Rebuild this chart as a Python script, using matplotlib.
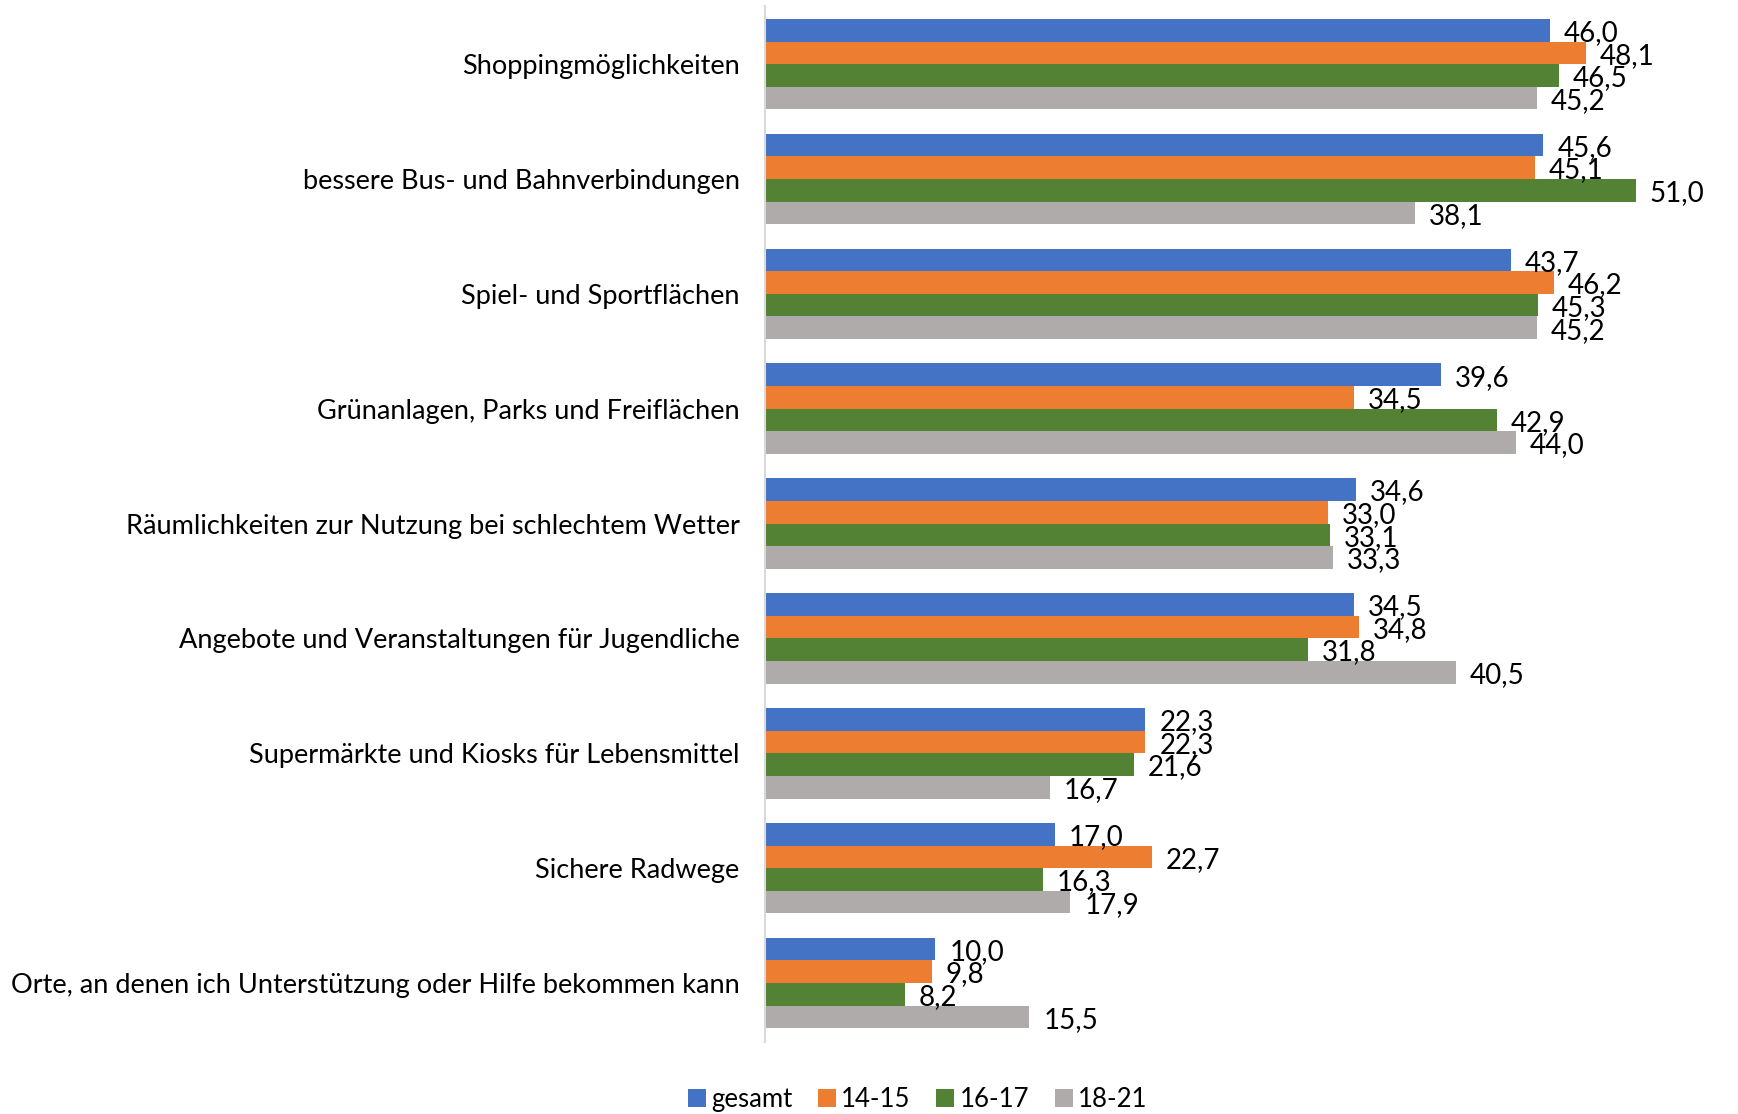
import matplotlib.pyplot as plt
import numpy as np

categories = [
    'Shoppingmöglichkeiten',
    'bessere Bus- und Bahnverbindungen',
    'Spiel- und Sportflächen',
    'Grünanlagen, Parks und Freiflächen',
    'Räumlichkeiten zur Nutzung bei schlechtem Wetter',
    'Angebote und Veranstaltungen für Jugendliche',
    'Supermärkte und Kiosks für Lebensmittel',
    'Sichere Radwege',
    'Orte, an denen ich Unterstützung oder Hilfe bekommen kann',
]
series_names = ['gesamt', '14-15', '16-17', '18-21']
gesamt = [46.0, 45.6, 43.7, 39.6, 34.6, 34.5, 22.3, 17.0, 10.0]
age_14_15 = [48.1, 45.1, 46.2, 34.5, 33.0, 34.8, 22.3, 22.7, 9.8]
age_16_17 = [46.5, 51.0, 45.3, 42.9, 33.1, 31.8, 21.6, 16.3, 8.2]
age_18_21 = [45.2, 38.1, 45.2, 44.0, 33.3, 40.5, 16.7, 17.9, 15.5]
colors = ['#4472C4', '#ED7D31', '#548235', '#AFABAB']

plt.rcParams['font.family'] = ['Lato', 'DejaVu Sans']

fig = plt.figure(figsize=(17.38, 11.14), dpi=100)
ax = fig.add_axes([0.44, 0.065, 0.56, 0.93])

y = np.arange(len(categories))
bar_h = 0.197
all_series = [gesamt, age_14_15, age_16_17, age_18_21]
for i, (vals, name, c) in enumerate(zip(all_series, series_names, colors)):
    pos = y + (i - 1.5) * bar_h
    bars = ax.barh(pos, vals, height=bar_h, color=c, label=name)
    for b, v in zip(bars, vals):
        ax.annotate('{:.1f}'.format(v).replace('.', ','),
                    (b.get_width(), b.get_y() + b.get_height() / 2),
                    xytext=(10, -2), textcoords='offset points',
                    va='center', ha='left', fontsize=20)

ax.set_xlim(0, 57)
ax.set_ylim(len(categories) - 0.49, -0.51)
ax.set_yticks(y)
ax.set_yticklabels(categories, fontsize=19.5)
ax.tick_params(axis='y', length=0, pad=18)
ax.set_xticks([])
for s in ['top', 'right', 'bottom']:
    ax.spines[s].set_visible(False)
ax.spines['left'].set_color('#D9D9D9')
ax.spines['left'].set_linewidth(1.5)

fig.legend(loc='center', bbox_to_anchor=(0.528, 0.013), ncol=4, frameon=False,
           fontsize=18.5, handlelength=0.7, handleheight=0.7, handletextpad=0.2,
           columnspacing=1.0)

plt.savefig('out.png', dpi=100)
